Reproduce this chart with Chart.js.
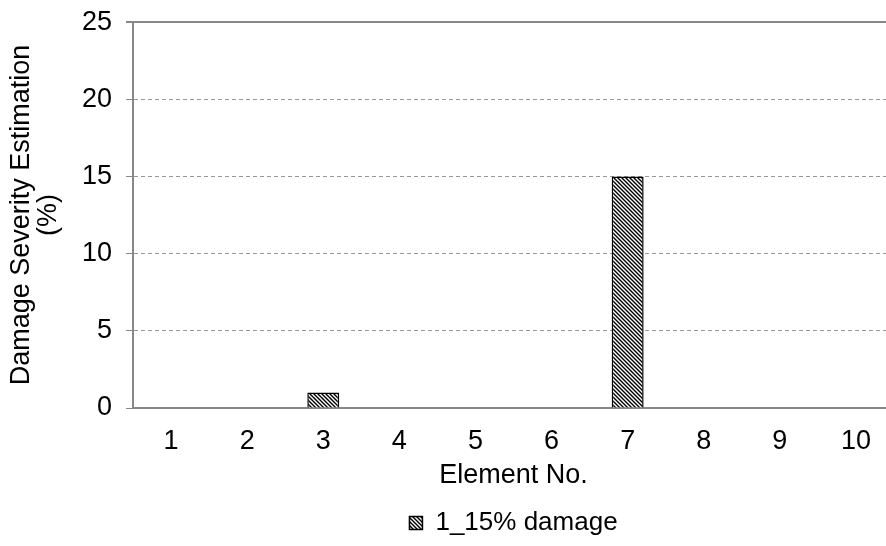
<!DOCTYPE html>
<html>
<head>
<meta charset="utf-8">
<script src="https://cdn.jsdelivr.net/npm/chart.js@4.4.1/dist/chart.umd.min.js"></script>
<style>
  html, body { margin: 0; padding: 0; background: #fff; overflow: hidden; }
  #wrap { width: 894px; height: 546px; }
</style>
</head>
<body>
<div id="wrap"><canvas id="chart" width="894" height="546"></canvas></div>
<script>
// data
const elements = ['1', '2', '3', '4', '5', '6', '7', '8', '9', '10'];
const damage = [0, 0, 1, 0, 0, 0, 15, 0, 0, 0];
const seriesName = '1_15% damage';
const yTicks = [0, 5, 10, 15, 20, 25];

// diagonal hatch fill
function hatch() {
    const c = document.createElement('canvas');
    c.width = 4; c.height = 4;
    const g = c.getContext('2d');
    g.fillStyle = '#fff';
    g.fillRect(0, 0, 4, 4);
    g.strokeStyle = '#000';
    g.lineWidth = 1.4;
    g.beginPath();
    g.moveTo(-1, -1); g.lineTo(5, 5);
    g.moveTo(-1, 3); g.lineTo(1, 5);
    g.moveTo(3, -1); g.lineTo(5, 1);
    g.stroke();
    return g.createPattern(c, 'repeat');
}

const ctx = document.getElementById('chart').getContext('2d');
const pat = hatch();
const fam = "'Liberation Sans', Arial, sans-serif";
const font1 = { family: fam, size: 27, lineHeight: 1 };
const isTop = (c) => c.tick && c.tick.value === 25;

new Chart(ctx, {
    type: 'bar',
    data: {
        labels: elements,
        datasets: [{
            label: seriesName,
            data: damage,
            backgroundColor: pat,
            borderColor: '#000',
            borderWidth: 1.5,
            barPercentage: 0.42,
            categoryPercentage: 1.0
        }]
    },
    options: {
        responsive: false,
        animation: false,
        layout: { padding: { top: 0, left: 8, right: 0, bottom: 0 } },
        plugins: {
            legend: {
                position: 'bottom',
                fullSize: false,
                labels: {
                    color: '#000',
                    font: { family: fam, size: 26 },
                    boxWidth: 13,
                    boxHeight: 13,
                    padding: 6
                }
            },
            tooltip: { enabled: false }
        },
        scales: {
            x: {
                grid: { display: false, drawTicks: false },
                border: { display: true, color: '#888', width: 2 },
                ticks: { color: '#000', font: font1, padding: 20 },
                title: {
                    display: true,
                    text: 'Element No.',
                    color: '#000',
                    font: font1,
                    padding: { top: -13, bottom: 15 }
                }
            },
            y: {
                min: 0,
                max: 25,
                afterBuildTicks: (axis) => { axis.ticks = yTicks.map(v => ({ value: v })); },
                grid: {
                    color: (c) => c.tick && c.tick.value === 0 ? 'rgba(0,0,0,0)' : (isTop(c) ? '#888' : '#999'),
                    lineWidth: (c) => isTop(c) ? 2 : 1,
                    tickColor: '#888',
                    tickBorderDash: [],
                    tickLength: 7
                },
                border: {
                    display: true, color: '#888', width: 2,
                    dash: (c) => isTop(c) ? [] : [4, 3]
                },
                ticks: { color: '#000', font: { family: fam, size: 27, lineHeight: 0.6 }, padding: 14 },
                title: {
                    display: true,
                    text: ['Damage Severity Estimation', '(%)'],
                    color: '#000',
                    font: font1,
                    padding: { top: 0, bottom: 6 }
                }
            }
        }
    }
});
</script>
</body>
</html>
